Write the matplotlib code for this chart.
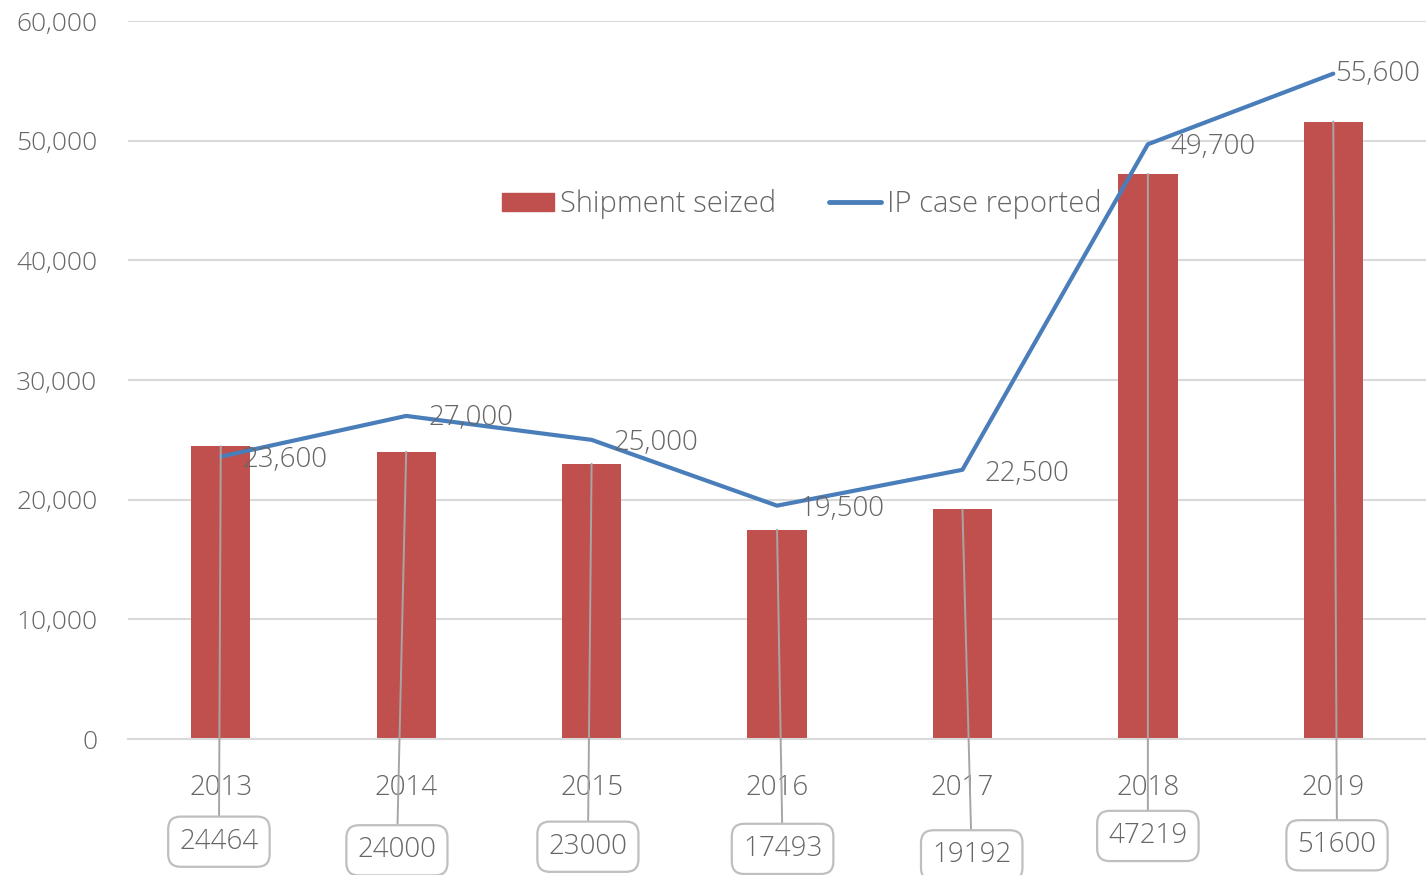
import matplotlib
matplotlib.use('Agg')
import matplotlib.pyplot as plt
from matplotlib.lines import Line2D
from matplotlib.patches import Patch

# data
years = ['2013', '2014', '2015', '2016', '2017', '2018', '2019']
shipments = [24464, 24000, 23000, 17493, 19192, 47219, 51600]
ip_cases = [23600, 27000, 25000, 19500, 22500, 49700, 55600]

# label placement: line labels (pixel offsets), callout boxes (x shift, axes fraction y)
lbl_dx = [22, 22, 22, 22, 22, 23, 2]
lbl_dy = [-3, -2, -3, -3, -4, -3, 0]
box_dx = [-0.01, -0.05, -0.02, 0.03, 0.05, 0.0, 0.02]
box_y = [-0.143, -0.155, -0.150, -0.153, -0.162, -0.135, -0.148]

plt.rcParams['font.family'] = ['Open Sans', 'DejaVu Sans']
grey = '#666666'
bar_col = '#C0504D'
line_col = '#4A7EBB'

fig = plt.figure(figsize=(14.26, 8.75), dpi=100)
ax = fig.add_axes([0.0898, 0.1554, 0.9102, 0.8206])

x = list(range(len(years)))
ax.bar(x, shipments, width=0.32, color=bar_col, zorder=2)
ax.plot(x, ip_cases, color=line_col, lw=3, zorder=3, solid_capstyle='round')

# labels on the line
for xi, v, dx, dy in zip(x, ip_cases, lbl_dx, lbl_dy):
    ax.annotate(f'{v:,}', (xi, v), xytext=(dx, dy), textcoords='offset pixels',
                ha='left', va='center', fontsize=20, color=grey,
                fontweight='light', zorder=5)

# callout boxes for bars
for xi, v, dx, by in zip(x, shipments, box_dx, box_y):
    ax.annotate(str(v), (xi, v), xytext=(xi + dx, by),
                textcoords=('data', 'axes fraction'),
                ha='center', va='center', fontsize=20, color=grey,
                fontweight='light', annotation_clip=False, zorder=6,
                bbox=dict(boxstyle='round,pad=0.4,rounding_size=0.45',
                          fc='white', ec='#BFBFBF', lw=1.6),
                arrowprops=dict(arrowstyle='-', color='#A6A6A6', lw=1.4,
                                shrinkA=0, shrinkB=0))

ax.set_xlim(-0.5, len(years) - 0.5)
ax.set_ylim(0, 60000)
ax.set_yticks(range(0, 60001, 10000))
ax.set_yticklabels([f'{t:,}' for t in range(0, 60001, 10000)])
ax.set_xticks(x)
ax.set_xticklabels(years)
ax.grid(axis='y', color='#D9D9D9', lw=1.5, zorder=0)
ax.set_axisbelow(True)
for s in ['top', 'right', 'left']:
    ax.spines[s].set_visible(False)
ax.spines['bottom'].set_color('#D9D9D9')
ax.spines['bottom'].set_linewidth(1.5)
ax.tick_params(axis='y', length=0, pad=22, labelsize=19, labelcolor=grey)
ax.tick_params(axis='x', length=0, pad=25, labelsize=20, labelcolor=grey)
for lab in ax.get_xticklabels() + ax.get_yticklabels():
    lab.set_fontweight('light')

handles = [Patch(color=bar_col, label='Shipment seized'),
           Line2D([], [], color=line_col, lw=3.5, solid_capstyle='round',
                  label='IP case reported')]
leg = ax.legend(handles=handles, loc='center', bbox_to_anchor=(0.519, 0.745),
                ncol=2, frameon=False, fontsize=21, handlelength=1.8,
                handleheight=0.6, handletextpad=0.2, columnspacing=1.8)
for t in leg.get_texts():
    t.set_color(grey)
    t.set_fontweight('light')

fig.savefig('out.png', dpi=100)
